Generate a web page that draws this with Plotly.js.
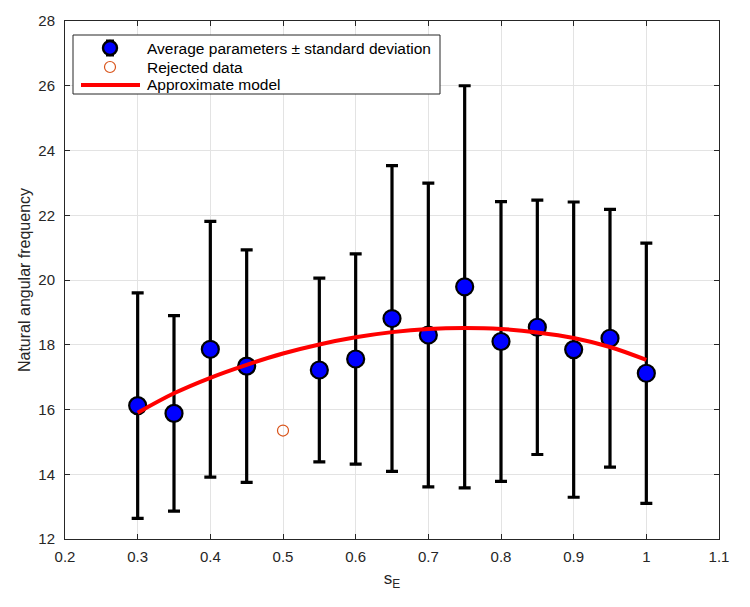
<!DOCTYPE html>
<html>
<head>
<meta charset="utf-8">
<script src="https://cdn.plot.ly/plotly-3.0.1.min.js"></script>
<style>
  html, body { margin: 0; padding: 0; background: #ffffff; }
  #chart { width: 750px; height: 607px; }
</style>
</head>
<body>
<div id="chart"></div>
<script>
// Measured points: s_E, mean natural angular frequency and its standard deviation
const sE     = [0.30, 0.35, 0.40, 0.45, 0.55, 0.60, 0.65, 0.70, 0.75, 0.80, 0.85, 0.90, 0.95, 1.00];
const meanW  = [16.12, 15.88, 17.86, 17.34, 17.22, 17.56, 18.81, 18.30, 19.79, 18.10, 18.54, 17.85, 18.20, 17.12];
const stdW   = [3.48, 3.02, 3.95, 3.59, 2.84, 3.25, 4.72, 4.69, 6.21, 4.32, 3.93, 4.56, 3.98, 4.02];

// Point excluded from the fit
const rejectedX = [0.50];
const rejectedY = [15.35];

// Approximate model curve
const modelX = [0.30, 0.35, 0.40, 0.45, 0.50, 0.55, 0.60, 0.65, 0.70, 0.75, 0.80, 0.85, 0.90, 0.95, 1.00];
const modelY = [15.90, 16.50, 16.98, 17.38, 17.73, 18.01, 18.23, 18.39, 18.49, 18.52, 18.49, 18.38, 18.21, 17.93, 17.53];

const xTicks = [0.2, 0.3, 0.4, 0.5, 0.6, 0.7, 0.8, 0.9, 1.0, 1.1];
const xTickText = ['0.2', '0.3', '0.4', '0.5', '0.6', '0.7', '0.8', '0.9', '1', '1.1'];
const yTicks = [12, 14, 16, 18, 20, 22, 24, 26, 28];

const legendLabels = [
  'Average parameters \u00B1 standard deviation',
  'Rejected data',
  'Approximate model'
];

const FONT = '"Liberation Sans", Arial, sans-serif';
const AXIS_COLOR = '#262626';
const BLUE = '#0000ff';
const REJECT = '#d95319';
const MODEL = '#ff0000';

const traces = [
  {
    x: sE,
    y: meanW,
    type: 'scatter',
    mode: 'markers',
    name: legendLabels[0],
    error_y: {
      type: 'data',
      array: stdW,
      visible: true,
      color: '#000000',
      thickness: 3.2,
      width: 6
    },
    marker: { color: BLUE, size: 17, line: { color: '#000000', width: 2.2 } }
  },
  {
    x: rejectedX,
    y: rejectedY,
    type: 'scatter',
    mode: 'markers',
    name: legendLabels[1],
    marker: { color: 'rgba(0,0,0,0)', size: 11, line: { color: REJECT, width: 1.2 } }
  },
  {
    x: modelX,
    y: modelY,
    type: 'scatter',
    mode: 'lines',
    name: legendLabels[2],
    line: { color: MODEL, width: 4, shape: 'spline', smoothing: 1 }
  }
];

// Boxed key in the upper-left corner, placed in paper coordinates
const plotW = 654, plotH = 518;
const px = v => v / plotW;          // pixels from the left edge of the plot
const py = v => 1 - v / plotH;      // pixels down from the top edge of the plot
const keyBox = { x0: px(8), x1: px(375), y0: py(73), y1: py(14) };
const rowY = [py(27), py(46), py(64)];
const symX = px(45);
const textX = px(80);

const shapes = [
  {
    type: 'rect', xref: 'paper', yref: 'paper',
    x0: keyBox.x0, x1: keyBox.x1, y0: keyBox.y0, y1: keyBox.y1,
    fillcolor: '#ffffff', line: { color: '#262626', width: 1 }, layer: 'above'
  },
  // error-bar caps behind the key marker
  {
    type: 'line', xref: 'paper', yref: 'paper', xsizemode: 'pixel', ysizemode: 'pixel',
    xanchor: symX, yanchor: rowY[0], x0: -4, x1: 4, y0: 7, y1: 7,
    line: { color: '#000000', width: 3 }, layer: 'above'
  },
  {
    type: 'line', xref: 'paper', yref: 'paper', xsizemode: 'pixel', ysizemode: 'pixel',
    xanchor: symX, yanchor: rowY[0], x0: -4, x1: 4, y0: -7, y1: -7,
    line: { color: '#000000', width: 3 }, layer: 'above'
  },
  {
    type: 'circle', xref: 'paper', yref: 'paper', xsizemode: 'pixel', ysizemode: 'pixel',
    xanchor: symX, yanchor: rowY[0], x0: -7, x1: 7, y0: -7, y1: 7,
    fillcolor: BLUE, line: { color: '#000000', width: 2.4 }, layer: 'above'
  },
  {
    type: 'circle', xref: 'paper', yref: 'paper', xsizemode: 'pixel', ysizemode: 'pixel',
    xanchor: symX, yanchor: rowY[1], x0: -5.5, x1: 5.5, y0: -5.5, y1: 5.5,
    fillcolor: 'rgba(0,0,0,0)', line: { color: REJECT, width: 1.2 }, layer: 'above'
  },
  {
    type: 'line', xref: 'paper', yref: 'paper',
    x0: px(16), x1: px(75), y0: rowY[2], y1: rowY[2],
    line: { color: MODEL, width: 4 }, layer: 'above'
  }
];

const annotations = legendLabels.map((t, i) => ({
  xref: 'paper', yref: 'paper',
  x: textX, y: rowY[i],
  xanchor: 'left', yanchor: 'middle',
  text: t, showarrow: false,
  font: { family: FONT, size: 15.5, color: '#000000' }
}));

const axisCommon = {
  showline: true,
  linecolor: AXIS_COLOR,
  linewidth: 1,
  mirror: 'ticks',
  ticks: 'inside',
  ticklen: 5,
  tickwidth: 1,
  tickcolor: AXIS_COLOR,
  showgrid: true,
  gridcolor: '#e3e3e3',
  gridwidth: 1,
  zeroline: false,
  tickfont: { family: FONT, size: 15, color: AXIS_COLOR }
};

const layout = {
  width: 750,
  height: 607,
  margin: { l: 65, r: 31, t: 21, b: 68 },
  paper_bgcolor: '#ffffff',
  plot_bgcolor: '#ffffff',
  showlegend: false,
  font: { family: FONT, color: AXIS_COLOR },
  shapes: shapes,
  annotations: annotations,
  xaxis: Object.assign({}, axisCommon, {
    range: [0.2, 1.1],
    tickvals: xTicks,
    ticktext: xTickText,
    ticklabelstandoff: 4,
    title: {
      text: 's<sub>E</sub>',
      font: { family: FONT, size: 17, color: AXIS_COLOR },
      standoff: 8
    }
  }),
  yaxis: Object.assign({}, axisCommon, {
    range: [12, 28],
    tickvals: yTicks,
    ticklabelstandoff: 6,
    title: {
      text: 'Natural angular frequency',
      font: { family: FONT, size: 16, color: AXIS_COLOR },
      standoff: 3
    }
  })
};

Plotly.newPlot('chart', traces, layout, { displayModeBar: false, staticPlot: true });
</script>
</body>
</html>
